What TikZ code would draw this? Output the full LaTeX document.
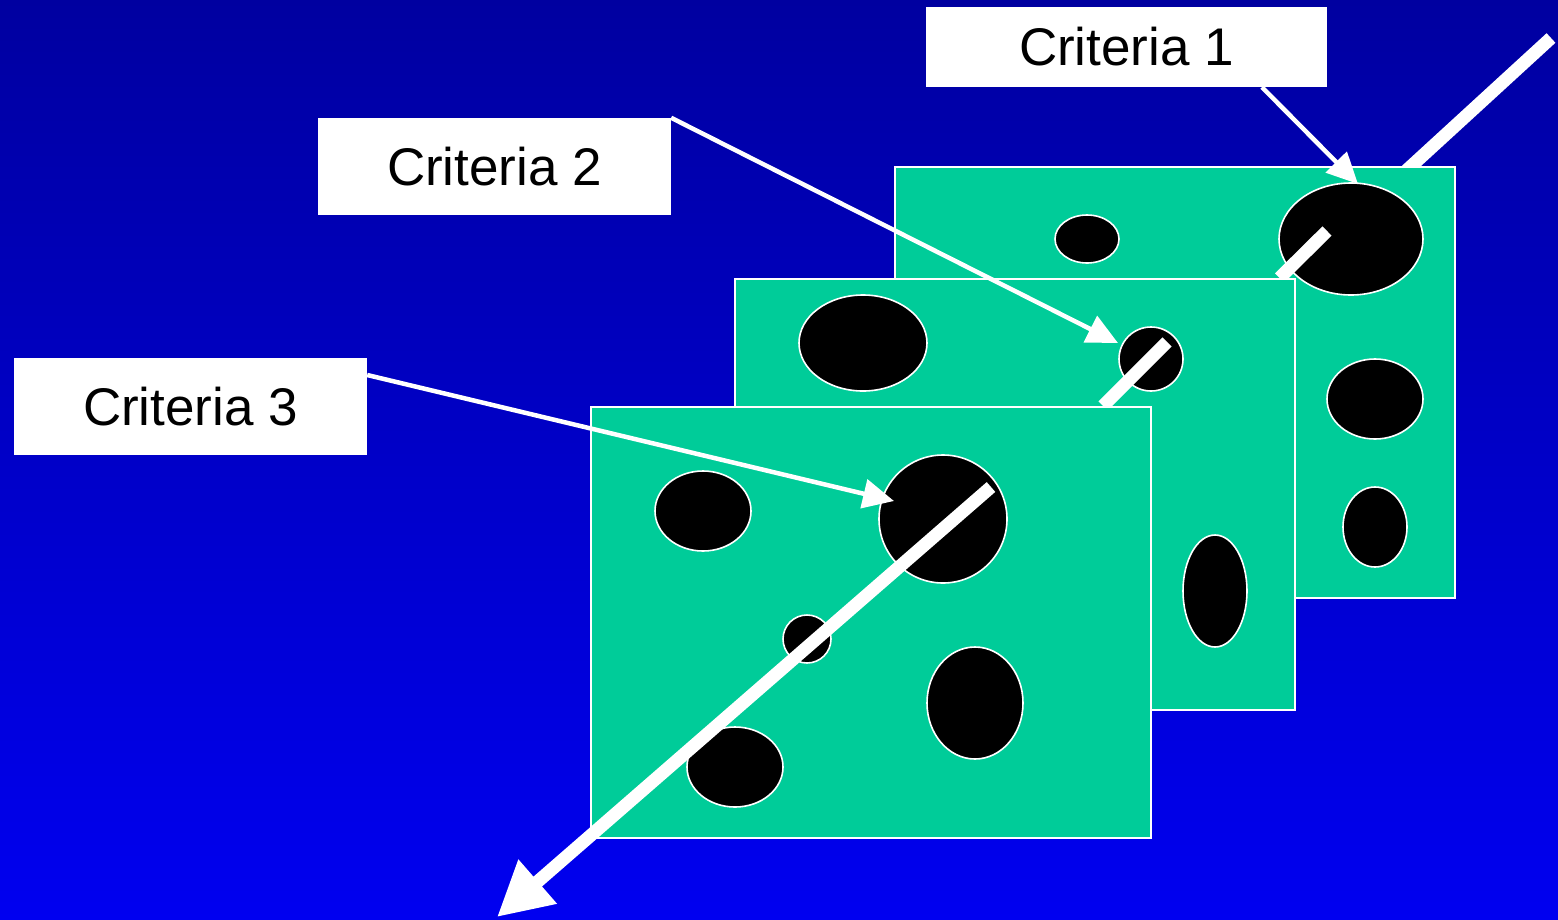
\documentclass[tikz,border=0pt]{standalone}
\usepackage{fontspec}
\setmainfont{Liberation Sans}
\usetikzlibrary{shapes.geometric,arrows.meta}
\definecolor{bgtop}{RGB}{0,0,160}
\definecolor{bgbot}{RGB}{0,0,240}
\definecolor{panelc}{RGB}{0,204,153}
\begin{document}
\begin{tikzpicture}[x=1pt,y=-1pt,
  label/.style={draw=none,fill=white,inner sep=0pt,font=\fontsize{53}{60}\selectfont},
  panel/.style={draw=white,line width=2pt,fill=panelc,rectangle,minimum width=560pt,minimum height=431pt,inner sep=0pt,outer sep=0pt},
  hole/.style={draw=white,line width=1.6pt,fill=black,ellipse,inner sep=0pt,outer sep=0pt},
  pointer/.style={draw=white,line width=4.5pt,-{Triangle[length=31pt,width=29pt]}},
  skewer/.style={draw=white,line width=13pt}
]
\useasboundingbox (0,0) rectangle (1558,919);
\shade[top color=bgtop,bottom color=bgbot] (0,0) rectangle (1558,919);

% top part of the thick line (behind the back panel)
\coordinate (s1a) at (1551,38);
\coordinate (s1b) at (1395,181);
\draw[skewer] (s1a) -- (s1b);

% back panel
\node[panel] (p1) at (1175,382.5) {};
\node[hole,minimum width=64pt,minimum height=48pt] (h11) at (1087,239) {};
\node[hole,minimum width=144pt,minimum height=112pt] (h12) at (1351,239) {};
\node[hole,minimum width=96pt,minimum height=80pt] (h13) at (1375,399) {};
\node[hole,minimum width=64pt,minimum height=80pt] (h14) at (1375,527) {};
\coordinate (s2a) at (1327,231);
\coordinate (s2b) at (1279.5,278);
\draw[skewer] (s2a) -- (s2b);

% middle panel
\node[panel] (p2) at (1015,494.5) {};
\node[hole,minimum width=128pt,minimum height=96pt] (h21) at (863,343) {};
\node[hole,minimum width=64pt,minimum height=64pt] (h22) at (1151,359) {};
\node[hole,minimum width=64pt,minimum height=112pt] (h23) at (1215,591) {};
\coordinate (s3a) at (1167,342);
\coordinate (s3b) at (1103,406);
\draw[skewer] (s3a) -- (s3b);

% front panel
\node[panel] (p3) at (871,622.5) {};
\node[hole,minimum width=96pt,minimum height=80pt] (h31) at (703,511) {};
\node[hole,minimum width=128pt,minimum height=128pt] (h32) at (943,519) {};
\node[hole,minimum width=48pt,minimum height=48pt] (h33) at (807,639) {};
\node[hole,minimum width=96pt,minimum height=112pt] (h34) at (975,703) {};
\node[hole,minimum width=96pt,minimum height=80pt] (h35) at (735,767) {};
\coordinate (s4a) at (991,487);
\coordinate (s4b) at (497,917);
\draw[skewer,-{Triangle[length=54pt,width=55pt]}] (s4a) -- (s4b);

% labels
\node[label,minimum width=401pt,minimum height=80pt] (c1) at (1126.5,47) {Criteria 1};
\node[label,minimum width=353pt,minimum height=97pt] (c2) at (494.5,166.5) {Criteria 2};
\node[label,minimum width=353pt,minimum height=97pt] (c3) at (190.5,406.5) {Criteria 3};

% pointers
\coordinate (t1) at (1358,184);
\coordinate (t2) at (1118,343);
\coordinate (t3) at (894,501);
\draw[pointer] ([xshift=135.5pt]c1.south) -- (t1);
\draw[pointer] (c2.north east) -- (t2);
\draw[pointer] ([yshift=31.5pt]c3.east) -- (t3);
\end{tikzpicture}
\end{document}
